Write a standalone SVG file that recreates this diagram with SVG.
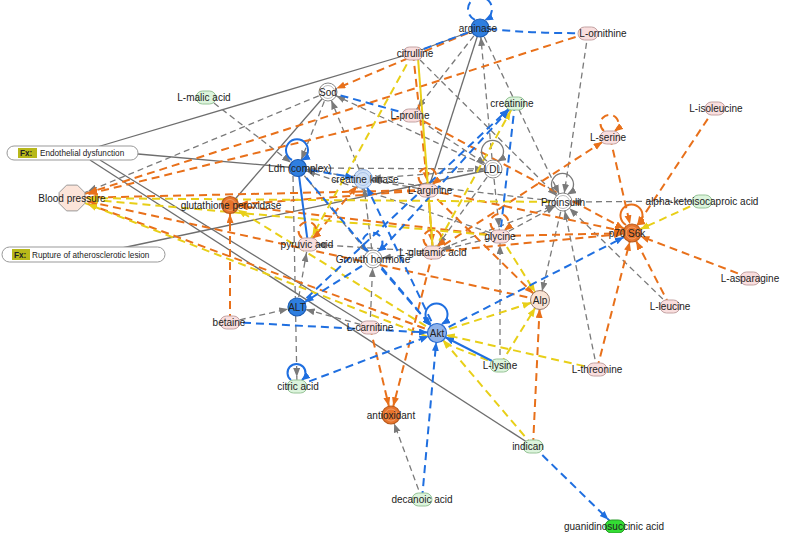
<svg xmlns="http://www.w3.org/2000/svg" width="792" height="533" viewBox="0 0 792 533">
<style>
line,path.e{fill:none}
.g{stroke:#7a7a7a;stroke-width:1.3;stroke-dasharray:6,4}
.gs{stroke:#6e6e6e;stroke-width:1.3}
.o{stroke:#e8701a;stroke-width:2;stroke-dasharray:8,5}
.os{stroke:#e8701a;stroke-width:2;fill:none}
.y{stroke:#e8cf18;stroke-width:2;stroke-dasharray:8,5}
.ys{stroke:#e8cf18;stroke-width:2}
.b{stroke:#1f6fe0;stroke-width:2;stroke-dasharray:8,5}
.bs{stroke:#1f6fe0;stroke-width:2}
.gl{stroke:#7a7a7a;stroke-width:1.3;fill:none}
.loop{fill:none}
text{font-family:"Liberation Sans",Arial,sans-serif;font-size:10px;fill:#222;text-anchor:middle}
.bx{font-size:8.2px;text-anchor:start}
.fx{font-size:8.2px;font-weight:bold;text-anchor:start;fill:#222}
.pk{fill:#f9dede;stroke:#c4a3a3;stroke-width:1}
.gr{fill:#dcf4dc;stroke:#98c498;stroke-width:1}
.bl{fill:#2f7fe0;stroke:#1b5cb5;stroke-width:1.2}
.or{fill:#e8742c;stroke:#b85a1c;stroke-width:1.2}
.orr{fill:none;stroke:#f3a877;stroke-width:0.8}
.wh{fill:#fff;stroke:#888;stroke-width:1}
.whr{fill:none;stroke:#aaa;stroke-width:0.8}
</style>
<defs>
<marker id="ag" markerUnits="userSpaceOnUse" markerWidth="10" markerHeight="8" refX="18" refY="3.5" orient="auto"><path d="M0,0 L9,3.5 L0,7 z" fill="#7a7a7a"/></marker>
<marker id="ao" markerUnits="userSpaceOnUse" markerWidth="10" markerHeight="8" refX="18" refY="3.5" orient="auto"><path d="M0,0 L9,3.5 L0,7 z" fill="#e8701a"/></marker>
<marker id="ay" markerUnits="userSpaceOnUse" markerWidth="10" markerHeight="8" refX="18" refY="3.5" orient="auto"><path d="M0,0 L9,3.5 L0,7 z" fill="#e8cf18"/></marker>
<marker id="ab" markerUnits="userSpaceOnUse" markerWidth="10" markerHeight="8" refX="18" refY="3.5" orient="auto"><path d="M0,0 L9,3.5 L0,7 z" fill="#1f6fe0"/></marker>
<marker id="lg" markerUnits="userSpaceOnUse" markerWidth="10" markerHeight="8" refX="8" refY="3.5" orient="auto"><path d="M0,0 L9,3.5 L0,7 z" fill="#7a7a7a"/></marker>
<marker id="lo" markerUnits="userSpaceOnUse" markerWidth="10" markerHeight="8" refX="8" refY="3.5" orient="auto"><path d="M0,0 L9,3.5 L0,7 z" fill="#e8701a"/></marker>
<marker id="lb" markerUnits="userSpaceOnUse" markerWidth="10" markerHeight="8" refX="8" refY="3.5" orient="auto"><path d="M0,0 L9,3.5 L0,7 z" fill="#1f6fe0"/></marker>
</defs>

<g id="connectors">
<!-- gray solid -->
<line class="gs" x1="97" y1="147" x2="413" y2="53"/>
<line class="gs" x1="138" y1="154" x2="298" y2="168"/>
<line class="gs" x1="90" y1="160" x2="533" y2="446"/>
<line class="gs" x1="100" y1="160" x2="370" y2="327"/>
<line class="gs" x1="122" y1="248" x2="493" y2="169"/>
<line class="gs" x1="413" y1="53" x2="480" y2="28"/>
<line class="gs" x1="480" y1="28" x2="428" y2="190"/>
<line class="gs" x1="328" y1="92" x2="230" y2="205"/>
<!-- gray dashed -->
<line class="g" x1="328" y1="92" x2="79.4" y2="194.9" marker-end="url(#ag)"/>
<line class="g" x1="206" y1="97" x2="298" y2="168" marker-end="url(#ag)"/>
<line class="g" x1="328" y1="92" x2="298" y2="168" marker-end="url(#ag)"/>
<line class="g" x1="363" y1="179" x2="328" y2="92" marker-end="url(#ag)"/>
<line class="g" x1="493" y1="169" x2="328" y2="92" marker-end="url(#ag)"/>
<line class="g" x1="480" y1="28" x2="412" y2="115" marker-end="url(#ag)"/>
<line class="g" x1="493" y1="169" x2="480" y2="28" marker-end="url(#ag)"/>
<line class="g" x1="480" y1="28" x2="563" y2="202" marker-end="url(#ag)"/>
<line class="g" x1="413" y1="53" x2="563" y2="202" marker-end="url(#ag)"/>
<line class="g" x1="588" y1="33" x2="563" y2="202" marker-end="url(#ag)"/>
<line class="g" x1="298" y1="168" x2="493" y2="169" marker-end="url(#ag)"/>
<line class="g" x1="412" y1="115" x2="493" y2="169" marker-end="url(#ag)"/>
<line class="g" x1="428" y1="190" x2="298" y2="168" marker-end="url(#ag)"/>
<line class="g" x1="493" y1="169" x2="363" y2="179" marker-end="url(#ag)"/>
<line class="g" x1="702" y1="201" x2="563" y2="202" marker-end="url(#ag)"/>
<line class="g" x1="670" y1="306" x2="563" y2="202" marker-end="url(#ag)"/>
<line class="g" x1="597" y1="369" x2="563" y2="202" marker-end="url(#ag)"/>
<line class="g" x1="563" y1="202" x2="540" y2="300" marker-end="url(#ag)"/>
<line class="g" x1="500" y1="236" x2="563" y2="202" marker-end="url(#ag)"/>
<line class="g" x1="433" y1="252" x2="563" y2="202" marker-end="url(#ag)"/>
<line class="g" x1="493" y1="169" x2="500" y2="236" marker-end="url(#ag)"/>
<line class="g" x1="493" y1="169" x2="433" y2="252" marker-end="url(#ag)"/>
<line class="g" x1="500" y1="236" x2="433" y2="252" marker-end="url(#ag)"/>
<line class="g" x1="297" y1="307" x2="308" y2="244" marker-end="url(#ag)"/>
<line class="g" x1="230" y1="322" x2="297" y2="307" marker-end="url(#ag)"/>
<line class="g" x1="370" y1="327" x2="297" y2="307" marker-end="url(#ag)"/>
<line class="g" x1="293" y1="176" x2="297" y2="386" marker-end="url(#ag)"/>
<line class="g" x1="370" y1="327" x2="373" y2="259" marker-end="url(#ag)"/>
<line class="g" x1="433" y1="252" x2="373" y2="259" marker-end="url(#ag)"/>
<line class="g" x1="422" y1="499" x2="391" y2="415" marker-end="url(#ag)"/>
<line class="g" x1="500" y1="365" x2="500" y2="236" marker-end="url(#ag)"/>
<line class="g" x1="298" y1="168" x2="373" y2="259" marker-end="url(#ag)"/>
<line class="g" x1="373" y1="259" x2="363" y2="179" marker-end="url(#ag)"/>
<line class="g" x1="500" y1="236" x2="298" y2="168" marker-end="url(#ag)"/>
<line class="g" x1="433" y1="252" x2="308" y2="244" marker-end="url(#ag)"/>
<line class="g" x1="563" y1="202" x2="363" y2="179" marker-end="url(#ag)"/>
<!-- orange dashed -->
<line class="o" x1="588" y1="33" x2="79.6" y2="195.6" marker-end="url(#ao)"/>
<line class="o" x1="480" y1="28" x2="328" y2="92" marker-end="url(#ao)"/>
<line class="o" x1="412" y1="115" x2="79.8" y2="196.1" marker-end="url(#ao)"/>
<line class="o" x1="413" y1="53" x2="428" y2="190" marker-end="url(#ao)"/>
<line class="o" x1="428" y1="190" x2="433" y2="252" marker-end="url(#ao)"/>
<line class="o" x1="412" y1="115" x2="632" y2="233" marker-end="url(#ao)"/>
<line class="o" x1="610" y1="137" x2="632" y2="233" marker-end="url(#ao)"/>
<line class="o" x1="715" y1="108" x2="632" y2="233" marker-end="url(#ao)"/>
<line class="o" x1="750" y1="278" x2="632" y2="233" marker-end="url(#ao)"/>
<line class="o" x1="670" y1="306" x2="632" y2="233" marker-end="url(#ao)"/>
<line class="o" x1="597" y1="369" x2="632" y2="233" marker-end="url(#ao)"/>
<line class="o" x1="428" y1="190" x2="632" y2="233" marker-end="url(#ao)"/>
<line class="o" x1="500" y1="236" x2="632" y2="233" marker-end="url(#ao)"/>
<line class="o" x1="433" y1="252" x2="632" y2="233" marker-end="url(#ao)"/>
<line class="o" x1="433" y1="252" x2="610" y2="137" marker-end="url(#ao)"/>
<line class="o" x1="428" y1="190" x2="230" y2="205" marker-end="url(#ao)"/>
<line class="o" x1="308" y1="244" x2="363" y2="179" marker-end="url(#ao)"/>
<line class="o" x1="230" y1="322" x2="230" y2="205" marker-end="url(#ao)"/>
<line class="o" x1="370" y1="327" x2="391" y2="415" marker-end="url(#ao)"/>
<line class="o" x1="433" y1="252" x2="391" y2="415" marker-end="url(#ao)"/>
<line class="o" x1="533" y1="446" x2="540" y2="300" marker-end="url(#ao)"/>
<line class="o" x1="428" y1="190" x2="540" y2="300" marker-end="url(#ao)"/>
<line class="o" x1="428" y1="190" x2="80" y2="197.8" marker-end="url(#ao)"/>
<line class="o" x1="437" y1="333" x2="79.5" y2="200.8" marker-end="url(#ao)"/>
<line class="o" x1="540" y1="300" x2="79.8" y2="199.7" marker-end="url(#ao)"/>
<line class="o" x1="500" y1="236" x2="230" y2="205" marker-end="url(#ao)"/>
<!-- yellow -->
<line class="y" x1="413" y1="53" x2="308" y2="244" marker-end="url(#ay)"/>
<line class="y" x1="563" y1="202" x2="80" y2="198.1" marker-end="url(#ay)"/>
<line class="y" x1="500" y1="236" x2="80" y2="198.7" marker-end="url(#ay)"/>
<line class="y" x1="500" y1="365" x2="79.5" y2="200.9" marker-end="url(#ay)"/>
<line class="y" x1="702" y1="201" x2="632" y2="233" marker-end="url(#ay)"/>
<line class="y" x1="500" y1="365" x2="540" y2="300" marker-end="url(#ay)"/>
<line class="y" x1="437" y1="333" x2="540" y2="300" marker-end="url(#ay)"/>
<line class="y" x1="597" y1="369" x2="437" y2="333" marker-end="url(#ay)"/>
<line class="y" x1="533" y1="446" x2="437" y2="333" marker-end="url(#ay)"/>
<line class="y" x1="433" y1="252" x2="515" y2="103" marker-end="url(#ay)"/>
<line class="y" x1="437" y1="333" x2="230" y2="205" marker-end="url(#ay)"/>
<line class="y" x1="500" y1="236" x2="540" y2="300" marker-end="url(#ay)"/>
<line class="ys" x1="418" y1="58" x2="433" y2="252"/>
<!-- blue -->
<path class="b loop" d="M588,33 Q535,34 480,28"/>
<line class="b" x1="480" y1="28" x2="413" y2="53"/>
<line class="b" x1="328" y1="92" x2="412" y2="115"/>
<line class="b" x1="298" y1="168" x2="363" y2="179" marker-end="url(#ab)"/>
<line class="bs" x1="298" y1="168" x2="308" y2="244"/>
<line class="b" x1="298" y1="168" x2="437" y2="333" marker-end="url(#ab)"/>
<line class="b" x1="437" y1="333" x2="363" y2="179" marker-end="url(#ab)"/>
<line class="b" x1="297" y1="307" x2="515" y2="103" marker-end="url(#ab)"/>
<line class="b" x1="373" y1="259" x2="515" y2="103" marker-end="url(#ab)"/>
<line class="b" x1="515" y1="103" x2="500" y2="236"/>
<line class="b" x1="230" y1="322" x2="437" y2="333" marker-end="url(#ab)"/>
<line class="b" x1="297" y1="386" x2="437" y2="333" marker-end="url(#ab)"/>
<line class="b" x1="422" y1="499" x2="437" y2="333" marker-end="url(#ab)"/>
<line class="b" x1="533" y1="446" x2="615" y2="526" marker-end="url(#ab)"/>
<line class="b" x1="437" y1="333" x2="632" y2="233" marker-end="url(#ab)"/>
<line class="bs" x1="500" y1="365" x2="437" y2="333" marker-end="url(#ab)"/>
<line class="b" x1="373" y1="259" x2="297" y2="307" marker-end="url(#ab)"/>
<line class="b" x1="373" y1="259" x2="437" y2="333" marker-end="url(#ab)"/>
<!-- self loops -->
<path class="b loop" d="M475,20 A12,12 0 1 1 485,20" marker-end="url(#lb)"/>
<path class="bs loop" d="M292,160 A11,11 0 1 1 302,160" marker-end="url(#lb)"/>
<path class="b loop" d="M367,251 A10,10 0 1 1 378,251" marker-end="url(#lb)"/>
<path class="bs loop" d="M431,324 A11,11 0 1 1 442,324" marker-end="url(#lb)"/>
<path class="bs loop" d="M291,380 A9,9 0 1 1 302,380" marker-end="url(#lb)"/>
<path class="o loop" d="M422,184 A9,9 0 1 1 433,184" marker-end="url(#lo)"/>
<path class="o loop" d="M427,246 A9,9 0 1 1 438,246" marker-end="url(#lo)"/>
<path class="o loop" d="M302,238 A9,9 0 1 1 313,238" marker-end="url(#lo)"/>
<path class="o loop" d="M494,230 A9,9 0 1 1 505,230" marker-end="url(#lo)"/>
<path class="os loop" d="M626,225 A11,11 0 1 1 637,225" marker-end="url(#lo)"/>
<path class="o loop" d="M604,131 A9,9 0 1 1 615,131" marker-end="url(#lo)"/>
<path class="gl loop" d="M487,161 A11,11 0 1 1 498,161" marker-end="url(#lg)"/>
<path class="gl loop" d="M557,194 A11,11 0 1 1 568,194" marker-end="url(#lg)"/>
</g>

<g id="node-arginase"><circle class="bl" cx="480" cy="28" r="9"/><text x="478" y="32">arginase</text></g>
<g id="node-L-ornithine"><rect class="pk" x="578" y="27" width="20" height="13" rx="6.5"/><text x="603" y="37">L-ornithine</text></g>
<g id="node-citrulline"><rect class="pk" x="403" y="47" width="20" height="13" rx="6.5"/><text x="415" y="57">citrulline</text></g>
<g id="node-Sod"><circle class="wh" cx="328" cy="92" r="9"/><circle class="whr" cx="328" cy="92" r="6.5"/><text x="328" y="96">Sod</text></g>
<g id="node-L-malic-acid"><rect class="gr" x="196" y="91" width="20" height="13" rx="6.5"/><text x="204" y="101">L-malic acid</text></g>
<g id="node-L-proline"><rect class="pk" x="402" y="109" width="20" height="13" rx="6.5"/><text x="410" y="119">L-proline</text></g>
<g id="node-creatinine"><rect class="gr" x="505" y="97" width="20" height="13" rx="6.5"/><text x="512" y="107">creatinine</text></g>
<g id="node-L-isoleucine"><rect class="pk" x="705" y="102" width="20" height="13" rx="6.5"/><text x="716" y="112">L-isoleucine</text></g>
<g id="node-L-serine"><rect class="pk" x="600" y="131" width="20" height="13" rx="6.5"/><text x="608" y="141">L-serine</text></g>
<g id="node-Endothelial-dysfunction"><rect x="7" y="146" width="131" height="14" rx="7" fill="#fff" stroke="#999"/><rect x="18" y="148" width="19" height="10" fill="#b8b81a"/><text class="fx" x="20" y="156">Fx:</text><text class="bx" x="40" y="156">Endothelial dysfunction</text></g>
<g id="node-Ldh"><circle class="bl" cx="298" cy="168" r="8.5"/><text x="300" y="172">Ldh (complex)</text></g>
<g id="node-creatine-kinase"><circle cx="363" cy="179" r="9.5" fill="#cfe0f6" stroke="#8aaad8"/><circle cx="363" cy="179" r="6.5" fill="none" stroke="#9fbbe3" stroke-width="0.8"/><text x="365" y="183">creatine kinase</text></g>
<g id="node-LDL"><circle class="wh" cx="493" cy="169" r="9"/><circle class="whr" cx="493" cy="169" r="6.5"/><text x="493" y="173">LDL</text></g>
<g id="node-L-arginine"><rect class="pk" x="418" y="184" width="20" height="13" rx="6.5"/><text x="430" y="194">L-arginine</text></g>
<g id="node-Proinsulin"><circle class="wh" cx="563" cy="202" r="9"/><circle class="whr" cx="563" cy="202" r="6.5"/><text x="563" y="206">Proinsulin</text></g>
<g id="node-alpha-ketoisocaproic-acid"><rect class="gr" x="692" y="195" width="20" height="13" rx="6.5"/><text x="702" y="205">alpha-ketoisocaproic acid</text></g>
<g id="node-Blood-pressure"><polygon points="84.9,203.4 77.4,210.9 66.6,210.9 59.1,203.4 59.1,192.6 66.6,185.1 77.4,185.1 84.9,192.6" fill="#fce4d9" stroke="#999"/><text x="72" y="202">Blood pressure</text></g>
<g id="node-glutathione-peroxidase"><circle class="or" cx="230" cy="205" r="8.5"/><circle class="orr" cx="230" cy="205" r="5.5"/><text x="231" y="209">glutathione peroxidase</text></g>
<g id="node-p70-S6k"><circle class="or" cx="632" cy="233" r="9"/><circle class="orr" cx="632" cy="233" r="6"/><text x="627" y="237">p70 S6k</text></g>
<g id="node-glycine"><rect class="pk" x="490" y="230" width="20" height="13" rx="6.5"/><text x="500" y="240">glycine</text></g>
<g id="node-pyruvic-acid"><rect class="pk" x="298" y="238" width="20" height="13" rx="6.5"/><text x="307" y="248">pyruvic acid</text></g>
<g id="node-Rupture"><rect x="2" y="247" width="163" height="15" rx="7.5" fill="#fff" stroke="#999"/><rect x="12" y="249" width="18" height="11" fill="#b8b81a"/><text class="fx" x="14" y="258">Fx:</text><text class="bx" x="32" y="258">Rupture of atherosclerotic lesion</text></g>
<g id="node-L-glutamic-acid"><rect class="pk" x="423" y="246" width="20" height="13" rx="6.5"/><text x="433" y="256">L-glutamic acid</text></g>
<g id="node-Growth-hormone"><circle class="wh" cx="373" cy="259" r="9"/><circle class="whr" cx="373" cy="259" r="6.5"/><text x="373" y="263">Growth hormone</text></g>
<g id="node-L-asparagine"><rect class="pk" x="740" y="272" width="20" height="13" rx="6.5"/><text x="750" y="282">L-asparagine</text></g>
<g id="node-Alp"><circle cx="540" cy="300" r="9.5" fill="#f9e3d4" stroke="#9a7a6a"/><text x="540" y="304">Alp</text></g>
<g id="node-ALT"><circle class="bl" cx="297" cy="307" r="9"/><text x="297" y="311">ALT</text></g>
<g id="node-L-leucine"><rect class="pk" x="660" y="300" width="20" height="13" rx="6.5"/><text x="670" y="310">L-leucine</text></g>
<g id="node-betaine"><rect class="pk" x="220" y="316" width="20" height="13" rx="6.5"/><text x="229" y="326">betaine</text></g>
<g id="node-L-carnitine"><rect class="pk" x="360" y="321" width="20" height="13" rx="6.5"/><text x="370" y="331">L-carnitine</text></g>
<g id="node-Akt"><circle cx="437" cy="333" r="9.5" fill="#8fb3ea" stroke="#2a6bd0" stroke-width="1.2"/><text x="437" y="337">Akt</text></g>
<g id="node-L-lysine"><rect class="gr" x="490" y="359" width="20" height="13" rx="6.5"/><text x="500" y="369">L-lysine</text></g>
<g id="node-L-threonine"><rect class="pk" x="587" y="363" width="20" height="13" rx="6.5"/><text x="597" y="373">L-threonine</text></g>
<g id="node-citric-acid"><rect class="gr" x="287" y="380" width="20" height="13" rx="6.5"/><text x="298" y="390">citric acid</text></g>
<g id="node-antioxidant"><circle class="or" cx="391" cy="415" r="9"/><circle class="orr" cx="391" cy="415" r="6"/><text x="391" y="419">antioxidant</text></g>
<g id="node-indican"><rect class="gr" x="523" y="440" width="20" height="13" rx="6.5"/><text x="528" y="450">indican</text></g>
<g id="node-decanoic-acid"><rect class="gr" x="412" y="493" width="20" height="13" rx="6.5"/><text x="422" y="503">decanoic acid</text></g>
<g id="node-guanidinosuccinic-acid"><rect x="605" y="520" width="20" height="13" rx="6.5" fill="#33dd33" stroke="#2a9a2a"/><text x="614" y="530">guanidinosuccinic acid</text></g>
</svg>
